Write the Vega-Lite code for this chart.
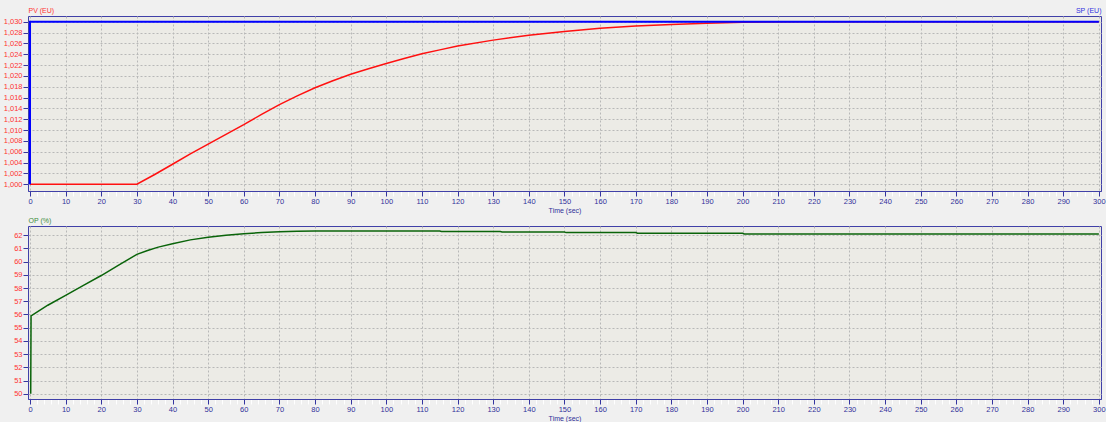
{
  "$schema": "https://vega.github.io/schema/vega-lite/v6.json",
  "background": "#F0F0F0",
  "padding": {"left": 0, "top": 6, "right": 0, "bottom": 0},
  "spacing": 2,
  "config": {
    "font": "Liberation Sans",
    "view": {"fill": "#ECEBE6", "stroke": "#4040A8", "strokeWidth": 1}
  },
  "datasets": {
    "pv": [
      {"t": 0, "v": 1.0}, {"t": 30, "v": 1.0}, {"t": 35, "v": 1.0018}, {"t": 40, "v": 1.0037},
      {"t": 45, "v": 1.0056}, {"t": 50, "v": 1.0074}, {"t": 55, "v": 1.0092}, {"t": 60, "v": 1.011},
      {"t": 65, "v": 1.0129}, {"t": 70, "v": 1.0147}, {"t": 75, "v": 1.0163}, {"t": 80, "v": 1.0178},
      {"t": 85, "v": 1.0191}, {"t": 90, "v": 1.0203}, {"t": 95, "v": 1.0213}, {"t": 100, "v": 1.0223},
      {"t": 105, "v": 1.0232}, {"t": 110, "v": 1.0241}, {"t": 115, "v": 1.0248}, {"t": 120, "v": 1.0255},
      {"t": 130, "v": 1.0266}, {"t": 140, "v": 1.0275}, {"t": 150, "v": 1.0282}, {"t": 160, "v": 1.0288},
      {"t": 170, "v": 1.0292}, {"t": 180, "v": 1.0295}, {"t": 190, "v": 1.0297}, {"t": 200, "v": 1.0299},
      {"t": 215, "v": 1.03}, {"t": 300, "v": 1.03}
    ],
    "sp": [
      {"t": 0, "v": 1.0}, {"t": 0.01, "v": 1.03}, {"t": 300, "v": 1.03}
    ],
    "op": [
      {"t": 0.2, "v": 50.0}, {"t": 0.3, "v": 55.9}, {"t": 5, "v": 56.7}, {"t": 10, "v": 57.45},
      {"t": 15, "v": 58.2}, {"t": 20, "v": 58.95}, {"t": 25, "v": 59.75}, {"t": 30, "v": 60.55},
      {"t": 33, "v": 60.85}, {"t": 36, "v": 61.1}, {"t": 40, "v": 61.35}, {"t": 45, "v": 61.65},
      {"t": 50, "v": 61.85}, {"t": 55, "v": 62.0}, {"t": 60, "v": 62.12}, {"t": 65, "v": 62.2},
      {"t": 70, "v": 62.26}, {"t": 75, "v": 62.3}, {"t": 80, "v": 62.32}, {"t": 115, "v": 62.32},
      {"t": 115.5, "v": 62.28}, {"t": 132, "v": 62.28}, {"t": 132.5, "v": 62.24}, {"t": 150, "v": 62.24},
      {"t": 150.5, "v": 62.2}, {"t": 170, "v": 62.2}, {"t": 170.5, "v": 62.15}, {"t": 200, "v": 62.15},
      {"t": 200.5, "v": 62.1}, {"t": 300, "v": 62.1}
    ]
  },
  "vconcat": [
    {
      "width": 1073,
      "height": 175,
      "encoding": {
        "x": {
          "field": "t", "type": "quantitative",
          "scale": {"domain": [-0.56, 300.6], "nice": false, "zero": false},
          "axis": {
            "values": [0,2,4,6,8,10,12,14,16,18,20,22,24,26,28,30,32,34,36,38,40,42,44,46,48,50,52,54,56,58,60,62,64,66,68,70,72,74,76,78,80,82,84,86,88,90,92,94,96,98,100,102,104,106,108,110,112,114,116,118,120,122,124,126,128,130,132,134,136,138,140,142,144,146,148,150,152,154,156,158,160,162,164,166,168,170,172,174,176,178,180,182,184,186,188,190,192,194,196,198,200,202,204,206,208,210,212,214,216,218,220,222,224,226,228,230,232,234,236,238,240,242,244,246,248,250,252,254,256,258,260,262,264,266,268,270,272,274,276,278,280,282,284,286,288,290,292,294,296,298,300],
            "labelExpr": "datum.value % 10 === 0 ? datum.label : ''",
            "tickColor": {"condition": {"test": "datum.value % 10 === 0", "value": "#3535A0"}, "value": "#FFFFFF"},
            "gridOpacity": {"condition": {"test": "datum.value % 10 === 0", "value": 1}, "value": 0},
            "grid": true, "gridColor": "#B8B8B8", "gridDash": [2, 2],
            "domain": true, "domainColor": "#4040A8", "domainWidth": 1,
            "tickSize": 5, "labelPadding": 1,
            "labelColor": "#30309A", "labelFontSize": 7.5, "labelOverlap": false, "labelFlush": false,
            "title": "Time (sec)", "titleFontSize": 7, "titleFontWeight": "normal",
            "titleColor": "#30309A", "titlePadding": 2
          }
        }
      },
      "layer": [
        {
          "data": {"name": "pv"},
          "mark": {"type": "line", "color": "#FF1010", "strokeWidth": 1.5},
          "encoding": {
            "y": {
              "field": "v", "type": "quantitative",
              "scale": {"domain": [0.99876, 1.03105], "nice": false, "zero": false},
              "axis": {
                "orient": "left",
                "values": [1.0, 1.002, 1.004, 1.006, 1.008, 1.01, 1.012, 1.014, 1.016, 1.018, 1.02, 1.022, 1.024, 1.026, 1.028, 1.03],
                "labelExpr": "replace(format(datum.value, '.3f'), '.', ',')",
                "labelColor": "#FF3333", "labelFontSize": 7.5, "labelPadding": 1,
                "tickColor": "#3535A0", "tickSize": 5, "domain": false,
                "grid": true, "gridColor": "#B8B8B8", "gridDash": [2, 2],
                "title": "PV (EU)", "titleAngle": 0, "titleX": 0, "titleY": -3.5,
                "titleAlign": "left", "titleBaseline": "alphabetic",
                "titleColor": "#FF3333", "titleFontSize": 7, "titleFontWeight": "normal",
                "minExtent": 27, "maxExtent": 27
              }
            }
          }
        },
        {
          "data": {"name": "sp"},
          "mark": {"type": "line", "color": "#0000FF", "strokeWidth": 2},
          "encoding": {
            "y": {
              "field": "v", "type": "quantitative",
              "axis": {
                "orient": "right", "labels": false, "ticks": false, "domain": false, "grid": false,
                "title": "SP (EU)", "titleAngle": 0, "titleX": 0, "titleY": -3.5,
                "titleAlign": "right", "titleBaseline": "alphabetic",
                "titleColor": "#3030E0", "titleFontSize": 7, "titleFontWeight": "normal",
                "minExtent": 0, "maxExtent": 0
              }
            }
          }
        }
      ],
      "resolve": {"axis": {"y": "independent"}}
    },
    {
      "width": 1073,
      "height": 173,
      "data": {"name": "op"},
      "mark": {"type": "line", "color": "#0A640A", "strokeWidth": 1.5},
      "encoding": {
        "x": {
          "field": "t", "type": "quantitative",
          "scale": {"domain": [-0.56, 300.6], "nice": false, "zero": false},
          "axis": {
            "values": [0,2,4,6,8,10,12,14,16,18,20,22,24,26,28,30,32,34,36,38,40,42,44,46,48,50,52,54,56,58,60,62,64,66,68,70,72,74,76,78,80,82,84,86,88,90,92,94,96,98,100,102,104,106,108,110,112,114,116,118,120,122,124,126,128,130,132,134,136,138,140,142,144,146,148,150,152,154,156,158,160,162,164,166,168,170,172,174,176,178,180,182,184,186,188,190,192,194,196,198,200,202,204,206,208,210,212,214,216,218,220,222,224,226,228,230,232,234,236,238,240,242,244,246,248,250,252,254,256,258,260,262,264,266,268,270,272,274,276,278,280,282,284,286,288,290,292,294,296,298,300],
            "labelExpr": "datum.value % 10 === 0 ? datum.label : ''",
            "tickColor": {"condition": {"test": "datum.value % 10 === 0", "value": "#3535A0"}, "value": "#FFFFFF"},
            "gridOpacity": {"condition": {"test": "datum.value % 10 === 0", "value": 1}, "value": 0},
            "grid": true, "gridColor": "#B8B8B8", "gridDash": [2, 2],
            "domain": true, "domainColor": "#4040A8", "domainWidth": 1,
            "tickSize": 5, "labelPadding": 1,
            "labelColor": "#30309A", "labelFontSize": 7.5, "labelOverlap": false, "labelFlush": false,
            "title": "Time (sec)", "titleFontSize": 7, "titleFontWeight": "normal",
            "titleColor": "#30309A", "titlePadding": 2
          }
        },
        "y": {
          "field": "v", "type": "quantitative",
          "scale": {"domain": [49.6, 62.7], "nice": false, "zero": false},
          "axis": {
            "values": [50, 51, 52, 53, 54, 55, 56, 57, 58, 59, 60, 61, 62],
            "labelColor": "#FF3333", "labelFontSize": 7.5, "labelPadding": 1,
            "tickColor": "#3535A0", "tickSize": 5, "domain": false,
            "grid": true, "gridColor": "#B8B8B8", "gridDash": [2, 2],
            "title": "OP (%)", "titleAngle": 0, "titleX": 0, "titleY": -3.5,
            "titleAlign": "left", "titleBaseline": "alphabetic",
            "titleColor": "#3C8C3C", "titleFontSize": 7, "titleFontWeight": "normal",
            "minExtent": 27, "maxExtent": 27
          }
        }
      }
    }
  ]
}
